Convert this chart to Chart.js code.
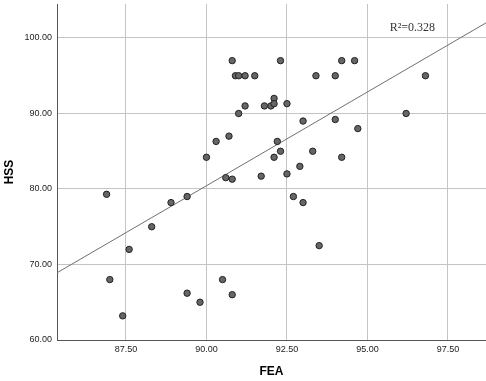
<!DOCTYPE html>
<html>
<head>
<meta charset="utf-8">
<script src="https://cdn.jsdelivr.net/npm/chart.js@4/dist/chart.umd.min.js"></script>
<style>
  html, body { margin: 0; padding: 0; background: #ffffff; }
  #wrap { width: 486px; height: 381px; position: relative; }
</style>
</head>
<body>
<div id="wrap"><canvas id="c" width="486" height="381"></canvas></div>
<script>
// FEA (x) values of the observations
const feaValues = [
  86.9, 88.9, 89.4, 88.3, 87.6, 87.0, 89.4, 89.8, 87.4, 90.5,
  90.8, 90.0, 90.3, 90.7, 90.6, 90.8, 92.2, 92.3, 92.1, 93.3,
  92.9, 91.7, 92.5, 92.7, 93.0, 94.2, 93.5, 94.2, 94.6, 93.4,
  94.0, 94.0, 94.7, 96.2, 96.8, 92.3, 91.5, 92.1, 91.8, 92.0,
  92.1, 92.5, 93.0, 90.8, 90.9, 91.0, 91.2, 91.2, 91.0
];
// HSS (y) values of the observations
const hssValues = [
  79.3, 78.2, 79.0, 75.0, 72.0, 68.0, 66.2, 65.0, 63.2, 68.0,
  66.0, 84.2, 86.3, 87.0, 81.5, 81.3, 86.3, 85.0, 84.2, 85.0,
  83.0, 81.7, 82.0, 79.0, 78.2, 84.2, 72.5, 97.0, 97.0, 95.0,
  95.0, 89.2, 88.0, 90.0, 95.0, 97.0, 95.0, 92.0, 91.0, 91.0,
  91.3, 91.3, 89.0, 97.0, 95.0, 95.0, 95.0, 91.0, 90.0
];
// Fit line end points
const fitX = [85.36, 98.68];
const fitY = [68.9, 102.0];
// Tick values
const xTicks = [87.5, 90.0, 92.5, 95.0, 97.5];
const yTicks = [60, 70, 80, 90, 100];
const rSquaredLabel = 'R\u00B2=0.328';

const points = feaValues.map((x, i) => ({ x: x, y: hssValues[i] }));
const fitLine = fitX.map((x, i) => ({ x: x, y: fitY[i] }));

const labelPlugin = {
  id: 'r2label',
  afterDatasetsDraw(chart) {
    const ctx = chart.ctx;
    const xs = chart.scales.x, ys = chart.scales.y;
    ctx.save();
    ctx.font = '12px "Liberation Serif", "Times New Roman", serif';
    ctx.fillStyle = '#333333';
    ctx.textAlign = 'right';
    ctx.textBaseline = 'middle';
    ctx.fillText(rSquaredLabel, xs.getPixelForValue(97.1), ys.getPixelForValue(101.4));
    ctx.restore();
  }
};

const tickFont = { family: '"Liberation Sans", Arial, sans-serif', size: 9 };
const titleFont = { family: '"Liberation Sans", Arial, sans-serif', size: 12, weight: 'bold' };

new Chart(document.getElementById('c'), {
  type: 'scatter',
  data: {
    datasets: [
      {
        type: 'line',
        data: fitLine,
        borderColor: '#707070',
        borderWidth: 1,
        pointRadius: 0,
        pointHoverRadius: 0,
        fill: false,
        order: 2
      },
      {
        data: points,
        pointRadius: 3.2,
        pointBackgroundColor: '#666666',
        pointBorderColor: '#222222',
        pointBorderWidth: 1,
        order: 1
      }
    ]
  },
  plugins: [labelPlugin],
  options: {
    responsive: false,
    animation: false,
    devicePixelRatio: 1,
    layout: { autoPadding: false, padding: { top: 4, right: 0, bottom: 0, left: 0 } },
    plugins: { legend: { display: false }, tooltip: { enabled: false } },
    scales: {
      x: {
        type: 'linear',
        min: 85.36,
        max: 98.68,
        afterBuildTicks: s => { s.ticks = xTicks.map(v => ({ value: v })); },
        afterFit: s => { s.height = 41; s.paddingLeft = 0; s.paddingRight = 0; },
        ticks: {
          callback: v => Number(v).toFixed(2),
          font: tickFont,
          color: '#222222',
          padding: 4,
          maxRotation: 0
        },
        grid: { color: '#c4c4c4', lineWidth: 1, drawTicks: false },
        border: { color: '#555555', width: 1 },
        title: { display: true, text: 'FEA', font: titleFont, color: '#000000', padding: { top: 0, bottom: 2 } }
      },
      y: {
        type: 'linear',
        min: 60,
        max: 104.5,
        afterBuildTicks: s => { s.ticks = yTicks.map(v => ({ value: v })); },
        afterFit: s => { s.width = 57; s.paddingTop = 0; s.paddingBottom = 0; },
        ticks: {
          callback: v => Number(v).toFixed(2),
          font: tickFont,
          color: '#222222',
          padding: 5
        },
        grid: { color: '#c4c4c4', lineWidth: 1, drawTicks: false },
        border: { color: '#555555', width: 1 },
        title: { display: true, text: 'HSS', font: titleFont, color: '#000000', padding: { top: 2, bottom: 0 } }
      }
    }
  }
});
</script>
</body>
</html>
